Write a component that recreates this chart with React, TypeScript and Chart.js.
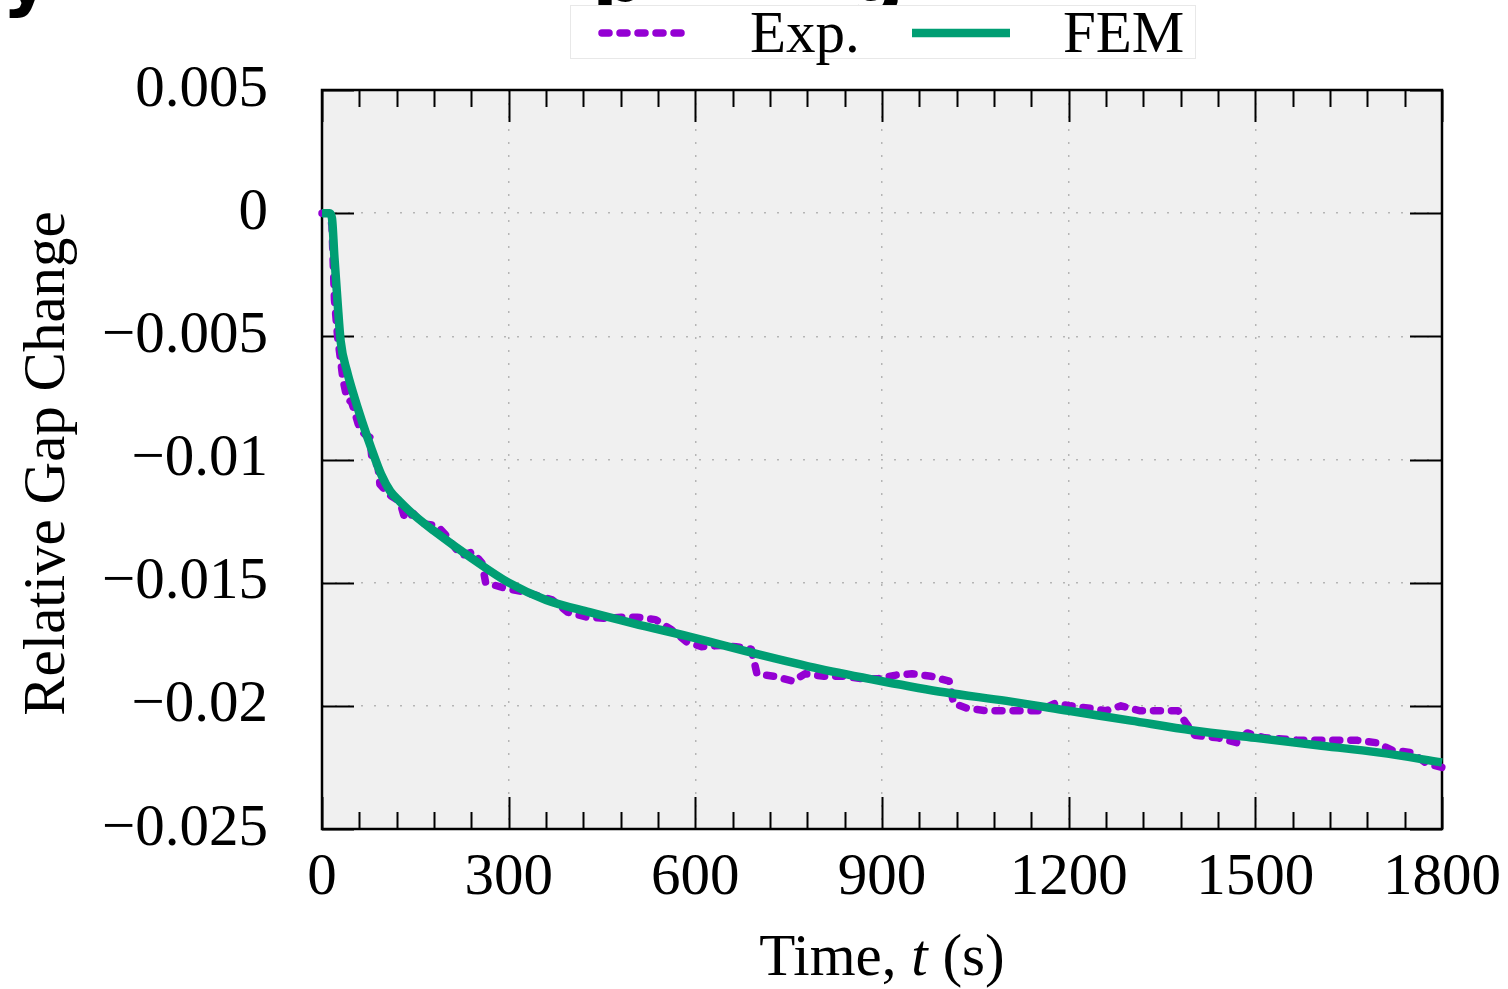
import React, { useEffect, useRef } from "react";
import { Chart, registerables } from "chart.js";

Chart.register(...registerables);

// ---- Data ----
const femTime = [0, 12, 16, 20, 25, 30, 40, 50, 65, 80, 95, 110, 125, 150, 180, 240, 300, 360, 430, 500, 600, 700, 800, 900, 1000, 1100, 1200, 1300, 1400, 1500, 1600, 1700, 1800];
const femGap = [0, 0, -0.0002, -0.0018, -0.0036, -0.0052, -0.0064, -0.0073, -0.0085, -0.0096, -0.0106, -0.0113, -0.0117, -0.0123, -0.0129, -0.014, -0.015, -0.0157, -0.0162, -0.01665, -0.01725, -0.0179, -0.0185, -0.019, -0.01945, -0.0198, -0.0202, -0.0206, -0.021, -0.0213, -0.0216, -0.0219, -0.0223];

const expTime = [0, 12, 16, 20, 25, 30, 34, 40, 48, 61, 70, 77, 80, 90, 93, 109, 125, 133, 147, 162, 186, 200, 223, 242, 257, 263, 291, 328, 370, 395, 426, 456, 481, 506, 536, 561, 586, 610, 641, 665, 690, 699, 727, 757, 776, 807, 837, 868, 893, 923, 948, 979, 1008, 1015, 1037, 1068, 1103, 1128, 1153, 1178, 1203, 1234, 1259, 1284, 1315, 1346, 1376, 1387, 1403, 1440, 1471, 1487, 1515, 1571, 1633, 1664, 1695, 1720, 1751, 1776, 1800];
const expGap = [0, 0, -0.0005, -0.0035, -0.005, -0.006, -0.0068, -0.0075, -0.0077, -0.0088, -0.009, -0.0091, -0.0099, -0.0103, -0.011, -0.01145, -0.0117, -0.0124, -0.0122, -0.0126, -0.0127, -0.0131, -0.0139, -0.01375, -0.0142, -0.015, -0.0152, -0.0154, -0.0157, -0.0162, -0.0164, -0.01645, -0.0164, -0.0164, -0.0165, -0.0169, -0.0174, -0.0176, -0.01755, -0.0176, -0.0177, -0.0187, -0.0188, -0.019, -0.0187, -0.0188, -0.0188, -0.0189, -0.0189, -0.01875, -0.0187, -0.0188, -0.019, -0.0199, -0.0201, -0.0202, -0.0202, -0.0202, -0.0202, -0.0199, -0.02, -0.0201, -0.0202, -0.02, -0.0202, -0.0202, -0.0202, -0.02065, -0.0212, -0.0213, -0.0215, -0.0211, -0.0213, -0.0214, -0.0214, -0.0214, -0.0215, -0.0218, -0.0219, -0.02235, -0.0225];

const xTickValues = [0, 300, 600, 900, 1200, 1500, 1800];
const xTickLabels = ["0", "300", "600", "900", "1200", "1500", "1800"];
const xMinorStep = 60;
const yTickValues = [-0.025, -0.02, -0.015, -0.01, -0.005, 0, 0.005];
const yTickLabels = ["\u22120.025", "\u22120.02", "\u22120.015", "\u22120.01", "\u22120.005", "0", "0.005"];

const seriesLabels = ["FEM", "Exp."];
const xTitleParts = ["Time, ", "t", " (s)"];
const yTitle = "Relative Gap Change";
const clippedTitleGlyphs = [
  { ch: "y", x: 2 },
  { ch: "p", x: 592 },
  { ch: "g", x: 850 },
];

const SERIF = '"Liberation Serif", "Times New Roman", serif';
const W = 1508;
const H = 989;

export default function App() {
  const ref = useRef<HTMLCanvasElement | null>(null);

  useEffect(() => {
    const canvas = ref.current;
    if (!canvas) return;

    const decor = {
      id: "decor",
      beforeDraw(chart: any) {
        const { ctx, chartArea: a } = chart;
        ctx.save();
        ctx.fillStyle = "#ffffff";
        ctx.fillRect(0, 0, chart.width, chart.height);
        ctx.fillStyle = "#f0f0f0";
        ctx.fillRect(a.left, a.top, a.right - a.left, a.bottom - a.top);
        ctx.restore();
      },
      beforeDatasetsDraw(chart: any) {
        const { ctx, chartArea: a, scales } = chart;
        const xs = scales.x;
        const ys = scales.y;
        ctx.save();
        ctx.strokeStyle = "#000";
        ctx.lineWidth = 2;
        ctx.beginPath();
        for (let v = 0; v <= 1800; v += xMinorStep) {
          const px = Math.round(xs.getPixelForValue(v)) + 0.5;
          const major = xTickValues.includes(v);
          const len = major ? 32 : 17;
          ctx.moveTo(px, a.bottom);
          ctx.lineTo(px, a.bottom - len);
          ctx.moveTo(px, a.top);
          ctx.lineTo(px, a.top + len);
        }
        for (const v of yTickValues) {
          const py = Math.round(ys.getPixelForValue(v)) + 0.5;
          ctx.moveTo(a.left, py);
          ctx.lineTo(a.left + 32, py);
          ctx.moveTo(a.right, py);
          ctx.lineTo(a.right - 32, py);
        }
        ctx.stroke();
        ctx.lineWidth = 2.5;
        ctx.strokeRect(a.left, a.top, a.right - a.left, a.bottom - a.top);
        ctx.restore();
      },
      afterDraw(chart: any) {
        const { ctx, chartArea: a } = chart;
        ctx.save();
        ctx.fillStyle = "#000";
        ctx.font = 'bold 76px "DejaVu Sans", sans-serif';
        ctx.textBaseline = "alphabetic";
        ctx.textAlign = "left";
        for (const g of clippedTitleGlyphs) ctx.fillText(g.ch, g.x, 1);

        ctx.fillStyle = "#ffffff";
        ctx.fillRect(570, 5, 625, 53);
        ctx.strokeStyle = "#e8e8e8";
        ctx.lineWidth = 1;
        ctx.strokeRect(570.5, 5.5, 625, 53);

        const ds = chart.data.datasets;
        const expDs = ds[1];
        const femDs = ds[0];
        ctx.lineCap = "round";
        ctx.strokeStyle = expDs.borderColor;
        ctx.lineWidth = expDs.borderWidth;
        ctx.setLineDash(expDs.borderDash);
        ctx.beginPath();
        ctx.moveTo(602, 33);
        ctx.lineTo(686, 33);
        ctx.stroke();
        ctx.setLineDash([]);
        ctx.strokeStyle = femDs.borderColor;
        ctx.lineWidth = femDs.borderWidth;
        ctx.lineCap = "butt";
        ctx.beginPath();
        ctx.moveTo(912, 33);
        ctx.lineTo(1010, 33);
        ctx.stroke();

        ctx.fillStyle = "#000";
        ctx.font = `59px ${SERIF}`;
        ctx.textBaseline = "alphabetic";
        ctx.textAlign = "left";
        ctx.fillText(expDs.label, 750, 52);
        ctx.fillText(femDs.label, 1063, 52);

        const reg = `59px ${SERIF}`;
        const ita = `italic 59px ${SERIF}`;
        ctx.font = reg;
        const w0 = ctx.measureText(xTitleParts[0]).width;
        const w2 = ctx.measureText(xTitleParts[2]).width;
        ctx.font = ita;
        const w1 = ctx.measureText(xTitleParts[1]).width;
        const total = w0 + w1 + w2;
        let x = (a.left + a.right) / 2 - total / 2;
        const by = 975;
        ctx.font = reg;
        ctx.fillText(xTitleParts[0], x, by);
        x += w0;
        ctx.font = ita;
        ctx.fillText(xTitleParts[1], x, by);
        x += w1;
        ctx.font = reg;
        ctx.fillText(xTitleParts[2], x, by);

        ctx.translate(64, (a.top + a.bottom) / 2 + 4);
        ctx.rotate(-Math.PI / 2);
        ctx.textAlign = "center";
        ctx.font = reg;
        ctx.fillText(yTitle, 0, 0);
        ctx.restore();
      },
    };

    const chart = new Chart(canvas, {
      type: "line",
      data: {
        datasets: [
          {
            label: seriesLabels[0],
            data: femTime.map((t, i) => ({ x: t, y: femGap[i] })),
            borderColor: "#009E73",
            borderWidth: 8.5,
            pointRadius: 0,
            fill: false,
            cubicInterpolationMode: "monotone",
            borderJoinStyle: "round",
            order: 0,
            clip: 6,
          },
          {
            label: seriesLabels[1],
            data: expTime.map((t, i) => ({ x: t, y: expGap[i] })),
            borderColor: "#9400D3",
            borderWidth: 7.5,
            borderDash: [7, 11],
            borderCapStyle: "round",
            borderJoinStyle: "round",
            pointRadius: 0,
            fill: false,
            tension: 0,
            order: 1,
            clip: 6,
          },
        ],
      },
      options: {
        responsive: false,
        animation: false,
        devicePixelRatio: 1,
        events: [],
        layout: { padding: { left: 0, right: 66, top: 90, bottom: 0 } },
        plugins: {
          legend: { display: false },
          title: { display: false },
          tooltip: { enabled: false },
        },
        scales: {
          x: {
            type: "linear",
            min: 0,
            max: 1800,
            afterBuildTicks: (s: any) => {
              s.ticks = xTickValues.map((v) => ({ value: v }));
            },
            afterFit: (s: any) => {
              s.height = 160;
              s.paddingLeft = 0;
              s.paddingRight = 0;
            },
            ticks: {
              autoSkip: false,
              maxRotation: 0,
              minRotation: 0,
              padding: 14,
              color: "#000",
              font: { family: SERIF, size: 59 },
              callback: (_v: any, i: number) => xTickLabels[i],
            },
            grid: {
              color: "#b5b5b5",
              lineWidth: 1.5,
              drawTicks: false,
              tickLength: 0,
            },
            border: { display: false, dash: [2, 11] },
          },
          y: {
            type: "linear",
            min: -0.025,
            max: 0.005,
            afterBuildTicks: (s: any) => {
              s.ticks = yTickValues.map((v) => ({ value: v }));
            },
            afterFit: (s: any) => {
              s.width = 322;
              s.paddingTop = 0;
              s.paddingBottom = 0;
            },
            ticks: {
              autoSkip: false,
              padding: 54,
              color: "#000",
              font: { family: SERIF, size: 59 },
              callback: (_v: any, i: number) => yTickLabels[i],
            },
            grid: {
              color: "#b5b5b5",
              lineWidth: 1.5,
              drawTicks: false,
              tickLength: 0,
            },
            border: { display: false, dash: [2, 11] },
          },
        },
      },
      plugins: [decor],
    } as any);

    return () => chart.destroy();
  }, []);

  return (
    <div style={{ position: "fixed", left: 0, top: 0, width: W, height: H, background: "#fff" }}>
      <canvas ref={ref} width={W} height={H} style={{ width: W, height: H, display: "block" }} />
    </div>
  );
}
